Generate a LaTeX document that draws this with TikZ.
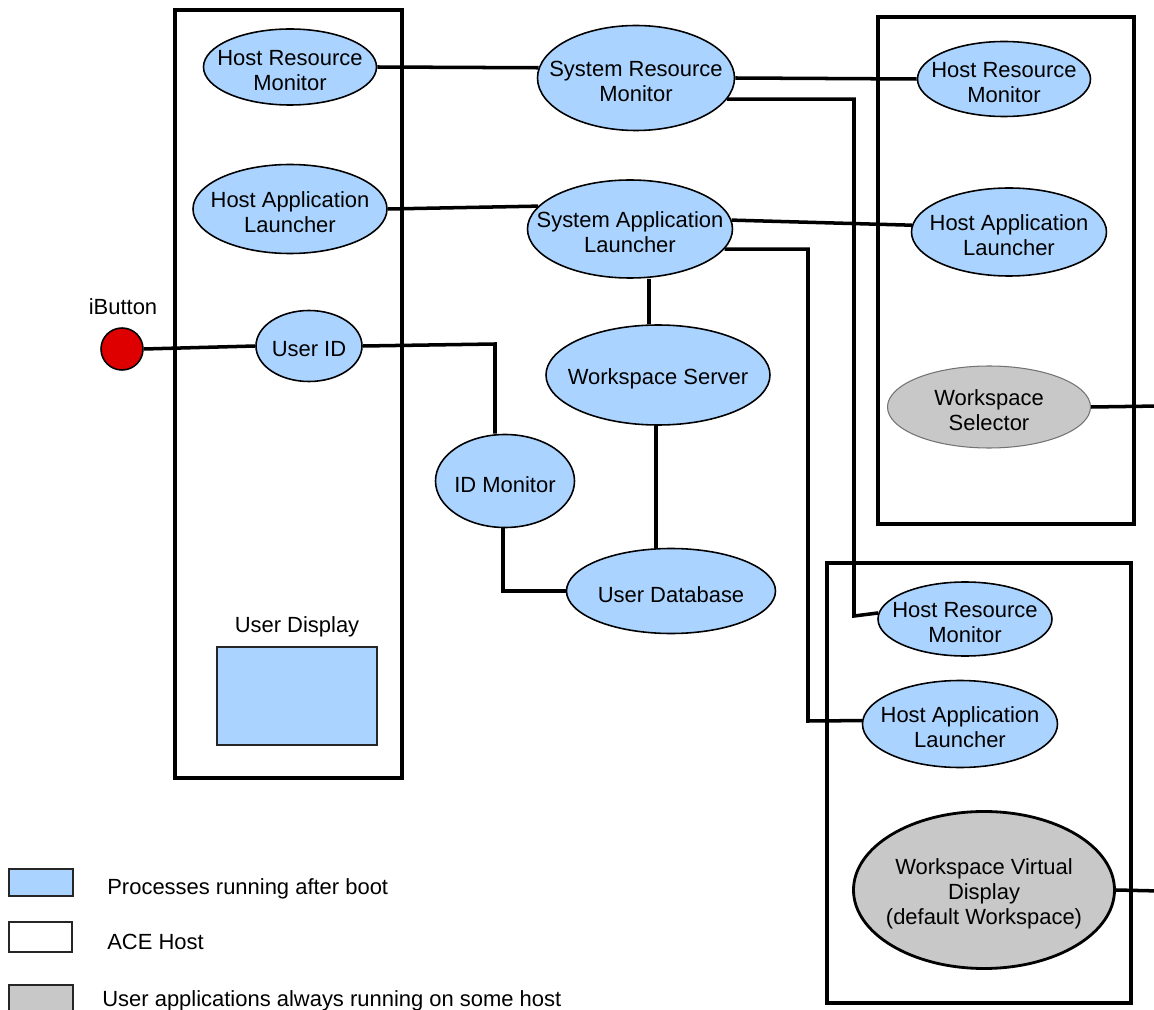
\documentclass[tikz,border=0pt]{standalone}
\usepackage{fontspec}
\setmainfont{Liberation Sans}
\usetikzlibrary{shapes.geometric}
\definecolor{procblue}{RGB}{170,212,255}
\definecolor{appgray}{RGB}{200,200,200}
\definecolor{btnred}{RGB}{222,0,0}
\begin{document}
\begin{tikzpicture}[x=0.02cm,y=-0.02cm,
  txt/.style={font=\fontsize{12.5}{14.2}\selectfont, align=center, inner sep=0pt, yshift=-0.07cm},
  proc/.style n args={3}{ellipse, draw=black, line width=0.9pt, fill=procblue,
    inner sep=0pt, minimum width=#1*0.02cm, minimum height=#2*0.02cm,
    label={[txt]center:{#3}}},
  app/.style n args={3}{proc={#1}{#2}{#3}, fill=appgray},
  host/.style={draw=black, line width=2pt},
  wire/.style={draw=black, line width=2pt},
  keybox/.style={draw=black!85, line width=0.8pt},
]
\useasboundingbox (0,0) rectangle (1154,1010);

% ACE hosts
\draw[host] (175,10) rectangle (402,778);
\draw[host] (878,17) rectangle (1134,524);
\draw[host] (827,563) rectangle (1131,1003);

% processes
\node[proc={173}{76}{Host Resource\\Monitor}] (hrmL) at (290,67) {};
\node[proc={197}{105}{System Resource\\Monitor}] (srm) at (636,78) {};
\node[proc={173}{75}{Host Resource\\Monitor}] (hrmT) at (1004,79) {};
\node[proc={194}{89}{Host Application\\Launcher}] (halL) at (290,209) {};
\node[proc={205}{98}{System Application\\Launcher}] (sal) at (630,229) {};
\node[proc={195}{88}{Host Application\\Launcher}] (halT) at (1009,232) {};
\node[proc={106}{71}{User ID}] (uid) at (309,346) {};
\node[proc={224}{100}{Workspace Server}] (ws) at (658,375) {};
\node[proc={139}{93}{ID Monitor}] (idm) at (505,481) {};
\node[proc={209}{85}{User Database}] (udb) at (671,591) {};
\node[app={203}{82}{Workspace\\Selector}, draw=black!55, line width=0.6pt] (wsel) at (989,407) {};
\node[proc={174}{74}{Host Resource\\Monitor}] (hrmB) at (965,619) {};
\node[proc={195}{87}{Host Application\\Launcher}] (halB) at (960,724) {};
\node[app={261}{157}{Workspace Virtual\\Display\\(default Workspace)}, line width=1.6pt] (wvd) at (984,890) {};

% iButton
\node[circle, draw=black, line width=0.9pt, fill=btnred, minimum size=42*0.02cm, inner sep=0pt] (ib) at (122,349) {};
\node[txt] (ibl) at (123,303) {iButton};

% user display
\node[txt] (udl) at (297,623) {User Display};
\node[draw=black!85, line width=0.8pt, fill=procblue, minimum width=160*0.02cm, minimum height=98*0.02cm, inner sep=0pt] (ud) at (297,696) {};

% bend points and free ends
\coordinate (b1) at (854,616);
\coordinate (b2) at (808,721);
\coordinate (b3) at (495,344);
\coordinate (e1) at (1160,406);
\coordinate (e2) at (1160,891);

% connectors
\draw[wire] (hrmL.east) -- (srm.174);
\draw[wire] (srm.east) -- (hrmT.west);
\draw[wire] (srm.-13) -| (b1) -- (hrmB.176);
\draw[wire] (halL.east) -- (sal.166);
\draw[wire] (sal.5) -- (halT.176);
\draw[wire] (sal.-12) -| (b2) -- (halB.178);
\draw[wire] ([xshift=0.38cm]sal.south) -- ([xshift=-0.18cm]ws.north);
\draw[wire] ([xshift=-0.04cm]ws.south) -- ([xshift=-0.04cm]ws.south |- udb.north);
\draw[wire] (ib.east) -- (uid.west);
\draw[wire] (uid.east) -- (b3) -- (b3 |- idm.north);
\draw[wire] ([xshift=-0.04cm]idm.south) |- (udb.west);
\draw[wire] (wsel.east) -- (e1);
\draw[wire] (wvd.east) -- (e2);

% legend
\draw[keybox, fill=procblue] (9,869) rectangle (73,896);
\draw[keybox, fill=white] (9,922) rectangle (72,952);
\draw[keybox, fill=appgray] (9,985) rectangle (73,1015);
\node[txt, anchor=west] (k1) at (107,885) {Processes running after boot};
\node[txt, anchor=west] (k2) at (107,938) {ACE Host};
\node[txt, anchor=west] (k3) at (102,997) {User applications always running on some host};
\end{tikzpicture}
\end{document}
